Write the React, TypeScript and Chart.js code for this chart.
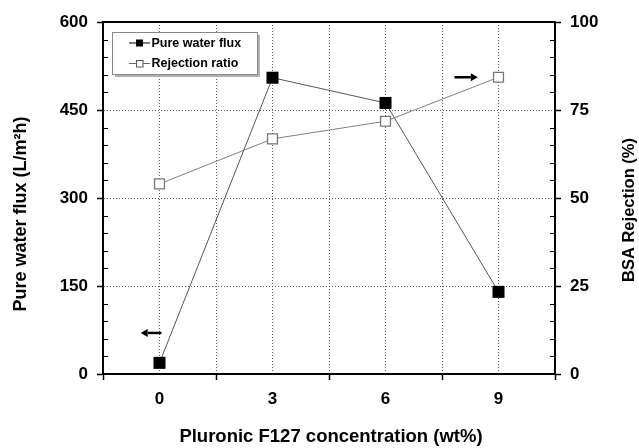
import React, { useEffect, useRef } from "react";
import { Chart, registerables } from "chart.js";

Chart.register(...registerables);

// ---- data ----
const concentrations = [0, 3, 6, 9];
const pureWaterFlux = [19, 505, 462, 140];
const rejectionRatio = [54, 66.8, 71.8, 84.3];

const xTickLabels = ["0", "3", "6", "9"];
const fluxTicks = [0, 150, 300, 450, 600];
const rejectionTicks = [0, 25, 50, 75, 100];

const seriesNames = ["Pure water flux", "Rejection ratio"];
const xTitle = "Pluronic F127 concentration (wt%)";
const yTitle = "Pure water flux (L/m\u00B2h)";
const y1Title = "BSA Rejection (%)";

// arrow annotations (data coordinates)
const fluxArrowX = [0.05, -0.5];
const fluxArrowY = 70;
const rejArrowX = [7.83, 8.45];
const rejArrowY = 84.3;

const FONT = '"Liberation Sans", Arial, sans-serif';

function drawArrow(ctx: CanvasRenderingContext2D, x0: number, x1: number, y: number) {
  const dir = Math.sign(x1 - x0);
  const head = 7;
  ctx.save();
  ctx.strokeStyle = "#000";
  ctx.fillStyle = "#000";
  ctx.lineWidth = 2.5;
  ctx.beginPath();
  ctx.moveTo(x0, y);
  ctx.lineTo(x1 - dir * head, y);
  ctx.stroke();
  ctx.beginPath();
  ctx.moveTo(x1, y);
  ctx.lineTo(x1 - dir * head, y - 4);
  ctx.lineTo(x1 - dir * head, y + 4);
  ctx.closePath();
  ctx.fill();
  ctx.restore();
}

const overlayPlugin = {
  id: "overlay",
  beforeDatasetsDraw(chart: any) {
    const { ctx, chartArea: a, scales } = chart;
    ctx.save();
    // minor ticks (inward)
    ctx.strokeStyle = "#000";
    ctx.lineWidth = 1;
    const ys = scales.y;
    const y1s = scales.y1;
    for (let v = 30; v < 600; v += 30) {
      if (v % 150 === 0) continue;
      const py = Math.round(ys.getPixelForValue(v)) + 0.5;
      ctx.beginPath();
      ctx.moveTo(a.left, py);
      ctx.lineTo(a.left + 5, py);
      ctx.stroke();
    }
    for (let v = 5; v < 100; v += 5) {
      if (v % 25 === 0) continue;
      const py = Math.round(y1s.getPixelForValue(v)) + 0.5;
      ctx.beginPath();
      ctx.moveTo(a.right, py);
      ctx.lineTo(a.right - 5, py);
      ctx.stroke();
    }
    // frame
    ctx.lineWidth = 2;
    ctx.strokeRect(a.left, a.top, a.right - a.left, a.bottom - a.top);
    ctx.restore();
  },
  afterDatasetsDraw(chart: any) {
    const { ctx, chartArea: a, scales } = chart;
    const xs = scales.x;
    ctx.save();
    // arrows
    drawArrow(ctx, xs.getPixelForValue(fluxArrowX[0]), xs.getPixelForValue(fluxArrowX[1]), scales.y.getPixelForValue(fluxArrowY));
    drawArrow(ctx, xs.getPixelForValue(rejArrowX[0]), xs.getPixelForValue(rejArrowX[1]), scales.y1.getPixelForValue(rejArrowY));

    // legend box
    const lx = a.left + 9, ly = a.top + 10, lw = 145, lh = 42;
    ctx.fillStyle = "#b0b0b0";
    ctx.fillRect(lx + 3, ly + 3, lw, lh);
    ctx.fillStyle = "#fff";
    ctx.fillRect(lx, ly, lw, lh);
    ctx.strokeStyle = "#888";
    ctx.lineWidth = 1;
    ctx.strokeRect(lx + 0.5, ly + 0.5, lw, lh);
    const rows = [ly + 11, ly + 31.5];
    ctx.font = `bold 12.5px ${FONT}`;
    ctx.textBaseline = "middle";
    ctx.textAlign = "left";
    rows.forEach((ry, i) => {
      ctx.strokeStyle = i === 0 ? "#000" : "#666";
      ctx.lineWidth = 1;
      ctx.beginPath();
      ctx.moveTo(lx + 17, ry);
      ctx.lineTo(lx + 38, ry);
      ctx.stroke();
      if (i === 0) {
        ctx.fillStyle = "#000";
        ctx.fillRect(lx + 24, ry - 3.5, 7, 7);
      } else {
        ctx.fillStyle = "#fff";
        ctx.fillRect(lx + 24, ry - 3.5, 7, 7);
        ctx.strokeStyle = "#555";
        ctx.strokeRect(lx + 24.5, ry - 3, 6.5, 6.5);
      }
      ctx.fillStyle = "#000";
      ctx.fillText(seriesNames[i], lx + 39.5, ry + 0.5);
    });

    // axis titles
    ctx.fillStyle = "#000";
    ctx.textAlign = "center";
    ctx.textBaseline = "middle";
    ctx.font = `bold 18.5px ${FONT}`;
    ctx.fillText(xTitle, (a.left + a.right) / 2 + 2, 437);
    ctx.save();
    ctx.font = `bold 18px ${FONT}`;
    ctx.translate(21, 214);
    ctx.rotate(-Math.PI / 2);
    ctx.fillText(yTitle, 0, 0);
    ctx.restore();
    ctx.save();
    ctx.font = `bold 16.5px ${FONT}`;
    ctx.translate(629.5, 210);
    ctx.rotate(-Math.PI / 2);
    ctx.fillText(y1Title, 0, 0);
    ctx.restore();
    ctx.restore();
  },
};

export default function App() {
  const ref = useRef<HTMLCanvasElement | null>(null);
  useEffect(() => {
    if (!ref.current) return;
    const tickFont = { family: FONT, size: 17, weight: "bold" as const };
    const gridDash = [1, 2];
    const chart = new Chart(ref.current, {
      type: "line",
      data: {
        datasets: [
          {
            label: seriesNames[0],
            data: concentrations.map((c, i) => ({ x: c, y: pureWaterFlux[i] })),
            yAxisID: "y",
            borderColor: "#555",
            borderWidth: 1,
            pointStyle: "rect",
            pointRadius: 8.5,
            pointBackgroundColor: "#000",
            pointBorderColor: "#000",
            pointBorderWidth: 0,
            tension: 0,
          },
          {
            label: seriesNames[1],
            data: concentrations.map((c, i) => ({ x: c, y: rejectionRatio[i] })),
            yAxisID: "y1",
            borderColor: "#808080",
            borderWidth: 1,
            pointStyle: "rect",
            pointRadius: 7,
            pointBackgroundColor: "#fff",
            pointBorderColor: "#777",
            pointBorderWidth: 1.3,
            tension: 0,
          },
        ],
      },
      options: {
        animation: false,
        responsive: false,
        layout: { padding: { top: 22, left: 0, right: 0, bottom: 0 } },
        plugins: { legend: { display: false }, tooltip: { enabled: false } },
        scales: {
          x: {
            type: "linear",
            min: -1.5,
            max: 10.5,
            afterFit: (s: any) => { s.height = 74; },
            afterBuildTicks: (s: any) => {
              s.ticks = [-1.5, 0, 1.5, 3, 4.5, 6, 7.5, 9, 10.5].map((v) => ({ value: v }));
            },
            ticks: {
              autoSkip: false,
              maxRotation: 0,
              padding: 9,
              color: "#000",
              font: tickFont,
              callback: (v: any) => {
                const idx = concentrations.indexOf(Number(v));
                return idx >= 0 ? xTickLabels[idx] : "";
              },
            },
            grid: {
              color: (c: any) => (c.tick && (c.tick.value === -1.5 || c.tick.value === 10.5) ? "rgba(0,0,0,0)" : "rgba(60,60,60,0.85)"),
              lineWidth: 1,
              tickLength: 6,
              tickWidth: 1.5,
              tickBorderDash: [],
              tickColor: (c: any) => (c.tick && Math.abs(c.tick.value % 3) === 1.5 ? "#000" : "rgba(0,0,0,0)"),
            },
            border: { display: true, color: "#000", width: 2, dash: gridDash },
          },
          y: {
            type: "linear",
            position: "left",
            min: 0,
            max: 600,
            afterFit: (s: any) => { s.width = 103; },
            afterBuildTicks: (s: any) => {
              s.ticks = fluxTicks.map((v) => ({ value: v }));
            },
            ticks: { padding: 9, color: "#000", font: tickFont },
            grid: {
              color: (c: any) => (c.tick && (c.tick.value === 0 || c.tick.value === 600) ? "rgba(0,0,0,0)" : "rgba(60,60,60,0.85)"),
              lineWidth: 1,
              tickLength: 6,
              tickWidth: 1.5,
              tickBorderDash: [],
              tickColor: "#000",
            },
            border: { display: true, color: "#000", width: 2, dash: gridDash },
          },
          y1: {
            type: "linear",
            position: "right",
            min: 0,
            max: 100,
            afterFit: (s: any) => { s.width = 84; },
            afterBuildTicks: (s: any) => {
              s.ticks = rejectionTicks.map((v) => ({ value: v }));
            },
            ticks: { padding: 9, color: "#000", font: tickFont },
            grid: {
              drawOnChartArea: false,
              lineWidth: 1,
              tickLength: 6,
              tickWidth: 1.5,
              tickBorderDash: [],
              tickColor: "#000",
            },
            border: { display: true, color: "#000", width: 2 },
          },
        },
      },
      plugins: [overlayPlugin],
    } as any);
    return () => chart.destroy();
  }, []);
  return (
    <div style={{ position: "absolute", left: 0, top: 0, width: 639, height: 448, background: "#fff" }}>
      <canvas ref={ref} width={639} height={448} style={{ display: "block", width: 639, height: 448 }} />
    </div>
  );
}
